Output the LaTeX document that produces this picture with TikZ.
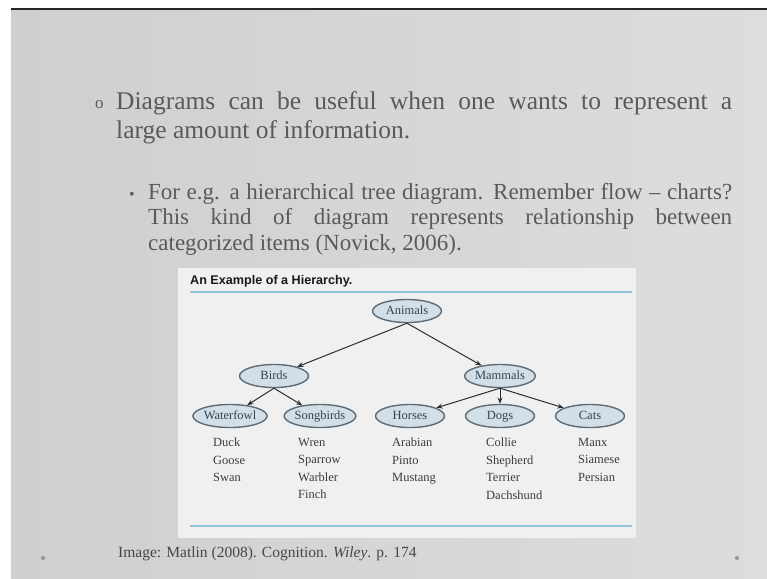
\documentclass[tikz,border=0pt]{standalone}
\usepackage{fontspec}
\setmainfont{Liberation Serif}
\newfontfamily\headfont{Liberation Sans}
\usetikzlibrary{arrows.meta,shapes.geometric}
\definecolor{slidegray}{HTML}{EDEDED}
\definecolor{slideedge}{HTML}{CFCFCF}
\definecolor{slideright}{HTML}{DDDDDD}
\definecolor{slidetext}{HTML}{5A5A5A}
\definecolor{figpaper}{HTML}{F0F0F0}
\definecolor{figrule}{HTML}{93C6DA}
\definecolor{catfill}{HTML}{D3DFE8}
\definecolor{catline}{HTML}{5E6C76}
\definecolor{catink}{HTML}{37434D}
\definecolor{leafink}{HTML}{3C3C3C}
\definecolor{arrowink}{HTML}{2E2E2E}

\begin{document}
\begin{tikzpicture}[x=1pt, y=-1pt,
  cat/.style={ellipse, draw=catline, line width=1.4pt, fill=catfill, minimum width=69pt, minimum height=23pt, inner sep=0pt, text height=8.5pt, text depth=2.5pt, text=catink, font=\fontsize{12.5}{14}\selectfont},
  leaf/.style={anchor=north west, inner sep=0pt, align=left, text=leafink, font=\fontsize{12.5}{17.5}\selectfont},
  arrow/.style={-{Stealth[length=2.2mm,width=1.7mm]}, line width=1pt, draw=arrowink},
  bodyline/.style={anchor=base west, inner sep=0pt, text=slidetext},
  cornerdot/.style={circle, fill=black!40, inner sep=1.5pt}
]
\useasboundingbox (0,0) rectangle (767,578);
\fill[white] (0,0) rectangle (767,578);
% slide background
\shade[left color=slideedge, middle color=slidegray, right color=slideright] (11,10) rectangle (767,578);
\fill[black!85] (11,8) rectangle (767,10.5);
\fill[figpaper] (178,268) rectangle (636,538);

% bullet text
\node[bodyline, font=\fontsize{17}{17}\selectfont] (bull1) at (95,108) {o};
\node[bodyline, font=\fontsize{25.5}{30}\selectfont] (line1) at (116,109) {\makebox[616pt][s]{Diagrams can be useful when one wants to represent a}};
\node[bodyline, font=\fontsize{25.5}{30}\selectfont] (line2) at (116,138) {large amount of information.};
\node[bodyline, font=\fontsize{16}{16}\selectfont] (bull2) at (129,199) {•};
\node[bodyline, font=\fontsize{23}{26}\selectfont] (sub1) at (148,199) {\makebox[584pt][s]{For e.g. a hierarchical tree diagram. Remember flow – charts?}};
\node[bodyline, font=\fontsize{23}{26}\selectfont] (sub2) at (148,224) {\makebox[584pt][s]{This kind of diagram represents relationship between}};
\node[bodyline, font=\fontsize{23}{26}\selectfont] (sub3) at (148,250) {categorized items (Novick, 2006).};

% the figure
\node[anchor=base west, inner sep=0pt, font=\headfont\bfseries\fontsize{12.6}{14}\selectfont, text=black!90] (title) at (190,284) {An Example of a Hierarchy.};
\draw[figrule, line width=1.6pt] (190,292) -- (632,292);
\draw[figrule, line width=1.6pt] (190,526) -- (632,526);

\node[cat] (animals) at (407,311) {Animals};
\node[cat] (birds) at (274,376) {Birds};
\node[cat] (mammals) at (500,376) {Mammals};
\node[cat] (waterfowl) at (230,416) {Waterfowl};
\node[cat] (songbirds) at (320,416) {Songbirds};
\node[cat] (horses) at (410,416) {Horses};
\node[cat] (dogs) at (500,416) {Dogs};
\node[cat] (cats) at (590,416) {Cats};

\node[leaf] (fowllist) at (213,438) {Duck\\Goose\\Swan};
\node[leaf] (songlist) at (298,438) {Wren\\Sparrow\\Warbler\\Finch};
\node[leaf] (horselist) at (392,438) {Arabian\\Pinto\\Mustang};
\node[leaf] (doglist) at (486,438) {Collie\\Shepherd\\Terrier\\Dachshund};
\node[leaf] (catlist) at (578,438) {Manx\\Siamese\\Persian};

\draw[arrow] (animals.south) -- (birds);
\draw[arrow] (animals.south) -- (mammals);
\draw[arrow] (birds.south) -- (waterfowl);
\draw[arrow] (birds.south) -- (songbirds);
\draw[arrow] (mammals.south) -- (horses);
\draw[arrow] (mammals.south) -- (dogs);
\draw[arrow] (mammals.south) -- (cats);

% footer
\node[anchor=base west, inner sep=0pt, font=\fontsize{15.5}{18}\selectfont, text=black!72] (credit) at (118,557) {Image: Matlin (2008). Cognition. \textit{Wiley}. p. 174};
\node[cornerdot] (dotleft) at (43,558) {};
\node[cornerdot] (dotright) at (737,558) {};
\end{tikzpicture}
\end{document}
